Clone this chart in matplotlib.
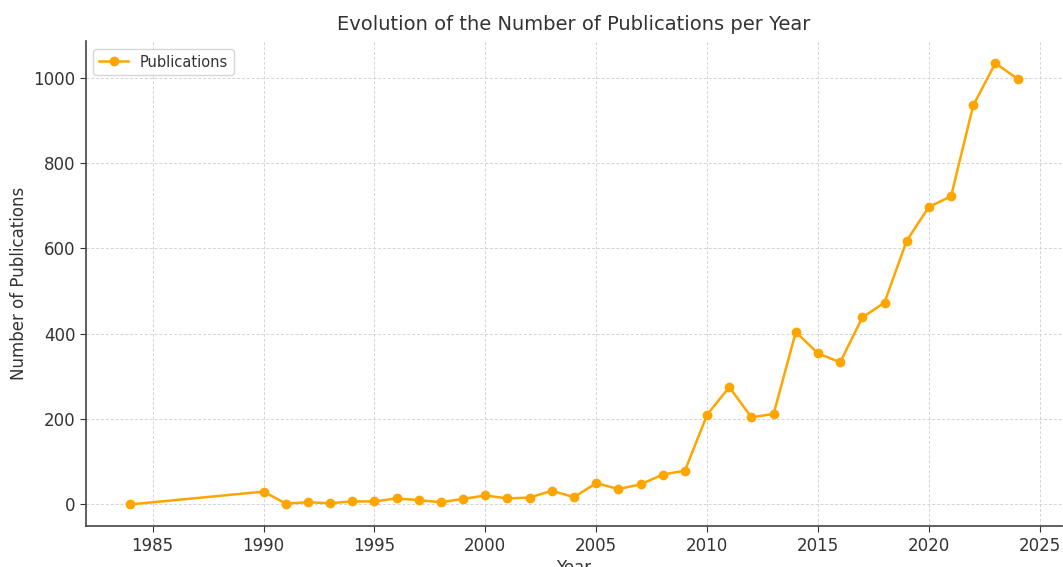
import matplotlib.pyplot as plt

years = [1984, 1990, 1991, 1992, 1993, 1994, 1995, 1996, 1997, 1998, 1999,
         2000, 2001, 2002, 2003, 2004, 2005, 2006, 2007, 2008, 2009,
         2010, 2011, 2012, 2013, 2014, 2015, 2016, 2017, 2018, 2019,
         2020, 2021, 2022, 2023, 2024]
publications = [0, 30, 2, 5, 3, 7, 7, 14, 10, 5, 13,
                21, 14, 16, 32, 17, 50, 36, 47, 70, 79,
                210, 275, 204, 212, 404, 354, 333, 438, 473, 618,
                697, 722, 935, 1034, 997]

text_color = '#333333'
plt.rcParams['font.family'] = 'DejaVu Sans'

fig = plt.figure(figsize=(10.63, 5.67), dpi=100)
ax = fig.add_axes([0.081, 0.072, 0.918, 0.855])

ax.plot(years, publications, color='#FFA500', marker='o', markersize=6,
        linewidth=1.8, label='Publications')

ax.set_title('Evolution of the Number of Publications per Year',
             fontsize=14, color=text_color, pad=8)
ax.set_xlabel('Year', fontsize=12, color=text_color, labelpad=3)
ax.set_ylabel('Number of Publications', fontsize=12, color=text_color)

ax.grid(True, linestyle=(0, (3, 2)), color='#d3d3d3', linewidth=0.7)
ax.set_axisbelow(True)
ax.spines['top'].set_visible(False)
ax.spines['right'].set_visible(False)
for s in ['left', 'bottom']:
    ax.spines[s].set_color('#444444')
    ax.spines[s].set_linewidth(1.2)
ax.tick_params(colors=text_color, labelsize=12, length=4)

ax.set_xlim(1982, 2026)
ax.set_ylim(-51, 1085)
ax.set_xticks([1985, 1990, 1995, 2000, 2005, 2010, 2015, 2020, 2025])

leg = ax.legend(loc='upper left', fontsize=10.5, labelcolor=text_color)

fig.savefig('out.png', dpi=100)
